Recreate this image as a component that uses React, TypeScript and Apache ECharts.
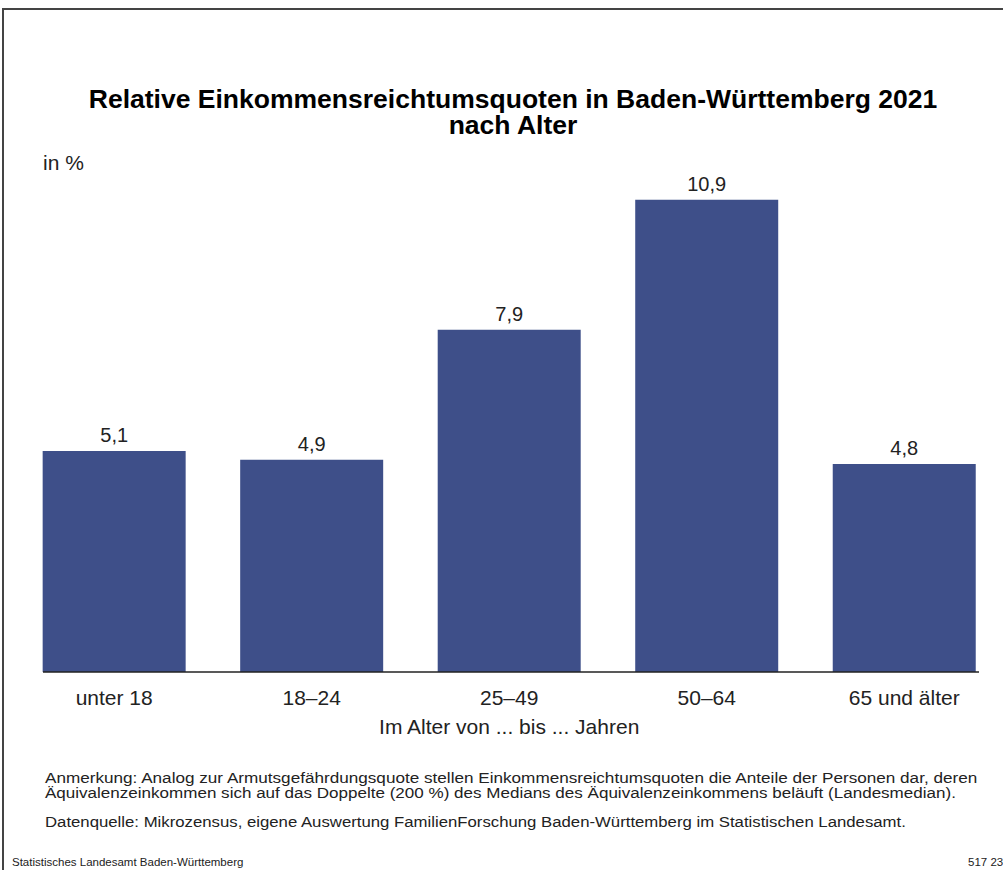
import React, { useEffect, useRef } from "react";
import * as echarts from "echarts";

const categories = ["unter 18", "18–24", "25–49", "50–64", "65 und älter"];
const values = [5.1, 4.9, 7.9, 10.9, 4.8];
const titleLines = [
  "Relative Einkommensreichtumsquoten in Baden-Württemberg 2021",
  "nach Alter",
];
const unitLabel = "in %";
const xAxisName = "Im Alter von ... bis ... Jahren";
const noteLines = [
  "Anmerkung: Analog zur Armutsgefährdungsquote stellen Einkommensreichtumsquoten die Anteile der Personen dar, deren",
  "Äquivalenzeinkommen sich auf das Doppelte (200 %) des Medians des Äquivalenzeinkommens beläuft (Landesmedian).",
];
const sourceLine =
  "Datenquelle: Mikrozensus, eigene Auswertung FamilienForschung Baden-Württemberg im Statistischen Landesamt.";
const footerLeft = "Statistisches Landesamt Baden-Württemberg";
const footerRight = "517 23";

const FONT = "'Liberation Sans', Arial, Helvetica, sans-serif";

export default function App() {
  const ref = useRef<HTMLDivElement>(null);
  useEffect(() => {
    if (!ref.current) return;
    const chart = echarts.init(ref.current, undefined, { renderer: "svg" });
    const noteText = (text: string, y: number, sx: number) => ({
      type: "text",
      x: 45,
      y,
      scaleX: sx,
      style: {
        text,
        font: `15px ${FONT}`,
        fill: "#222",
        textVerticalAlign: "middle",
      },
    });
    chart.setOption({
      animation: false,
      backgroundColor: "#ffffff",
      textStyle: { fontFamily: FONT },
      grid: { left: 15.4, top: 152, width: 991.25, height: 520 },
      xAxis: {
        type: "category",
        data: categories,
        axisLine: { show: false },
        axisTick: { show: false },
        axisLabel: { color: "#222", fontSize: 21, margin: 15, fontFamily: FONT },
        name: xAxisName,
        nameLocation: "middle",
        nameGap: 44,
        nameTextStyle: { color: "#222", fontSize: 21, fontFamily: FONT },
      },
      yAxis: {
        type: "value",
        min: 0,
        max: 12,
        show: false,
        splitLine: { show: false },
      },
      series: [
        {
          type: "bar",
          data: values,
          barWidth: 143,
          itemStyle: { color: "#3E4F89" },
          label: {
            show: true,
            position: "top",
            distance: 6,
            color: "#222",
            fontSize: 20,
            fontFamily: FONT,
            formatter: (p: any) => String(p.value).replace(".", ","),
          },
        },
      ],
      graphic: [
        {
          type: "polyline",
          shape: { points: [[3, 870], [3, 9], [1003, 9]] },
          style: { stroke: "#444", lineWidth: 2, fill: "none" },
          silent: true,
        },
        {
          type: "line",
          shape: { x1: 43, y1: 672, x2: 979, y2: 672 },
          style: { stroke: "#222", lineWidth: 1.5 },
          z: 10,
        },
        {
          type: "text",
          x: 513,
          y: 99,
          scaleX: 1.02,
          style: {
            text: titleLines[0],
            font: `bold 26px ${FONT}`,
            fill: "#000",
            textAlign: "center",
            textVerticalAlign: "middle",
          },
        },
        {
          type: "text",
          x: 513,
          y: 125,
          scaleX: 1.02,
          style: {
            text: titleLines[1],
            font: `bold 26px ${FONT}`,
            fill: "#000",
            textAlign: "center",
            textVerticalAlign: "middle",
          },
        },
        {
          type: "text",
          x: 43,
          y: 162,
          style: {
            text: unitLabel,
            font: `21px ${FONT}`,
            fill: "#222",
            textVerticalAlign: "middle",
          },
        },
        noteText(noteLines[0], 777, 1.143),
        noteText(noteLines[1], 792, 1.136),
        noteText(sourceLine, 822, 1.117),
        {
          type: "text",
          x: 12,
          y: 862,
          style: {
            text: footerLeft,
            font: `11.5px ${FONT}`,
            fill: "#222",
            textVerticalAlign: "middle",
          },
        },
        {
          type: "text",
          x: 968,
          y: 862,
          style: {
            text: footerRight,
            font: `11.5px ${FONT}`,
            fill: "#222",
            textVerticalAlign: "middle",
          },
        },
      ],
    });
    return () => chart.dispose();
  }, []);
  return (
    <div
      ref={ref}
      style={{ position: "absolute", left: 0, top: 0, width: 1003, height: 870 }}
    />
  );
}
